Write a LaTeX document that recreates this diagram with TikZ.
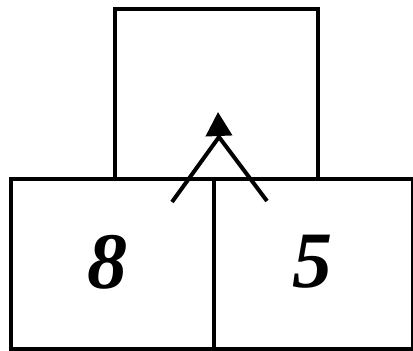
\documentclass[tikz,border=0pt]{standalone}
\usepackage{fontspec}
\setmainfont{Liberation Serif}
\usetikzlibrary{arrows.meta, positioning}

\begin{document}
\begin{tikzpicture}[
  % one unit is one pixel of the reference, y grows downwards
  x=1pt, y=-1pt, line width=4pt,
  cell/.style={draw, minimum width=#1, minimum height=170pt, inner sep=0pt, anchor=north west},
  digit/.style={font=\fontsize{80}{80}\selectfont\bfseries\itshape},
  ln/.style={line width=4pt},
  ar/.style={-{Triangle[length=24pt, width=26pt]}, line width=4pt},
]
\useasboundingbox (0,0) rectangle (413,351);
% the three cells
\node[cell=203pt] (top) at (113,7) {};
\node[cell=203pt] (left) at (9,177) {};
\node[cell=199pt] (right) at (212,177) {};
\node[digit] (eight) at (107,262) {8};
\node[digit] (five) at (312,262) {5};
% the caret arrow
\coordinate (apex) at (219,137);
\coordinate (tip) at (218,112);
\coordinate (lfoot) at (172,202);
\coordinate (rfoot) at (267,201);
\draw[ln] (lfoot) -- (apex) -- (rfoot);
\draw[ar] (apex) -- (tip);
\end{tikzpicture}
\end{document}
